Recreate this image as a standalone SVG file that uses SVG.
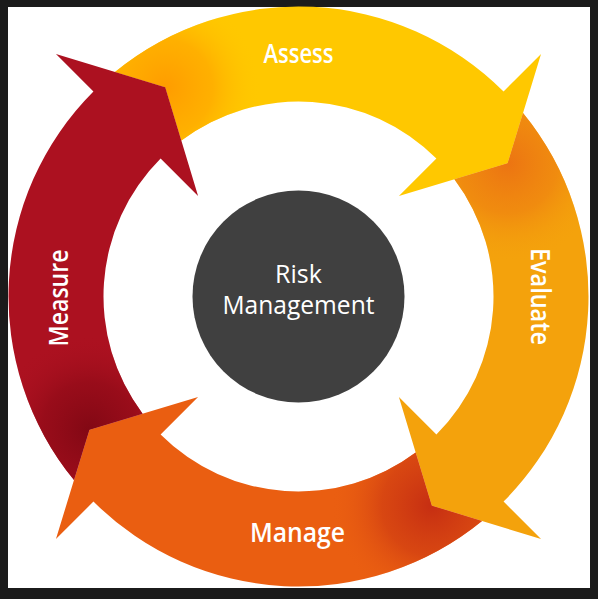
<svg xmlns="http://www.w3.org/2000/svg" xmlns:xlink="http://www.w3.org/1999/xlink" width="598" height="599" viewBox="0 0 598 599">
  <style>
    .lbl { font-family: "Open Sans", "Noto Sans", "DejaVu Sans", sans-serif; font-weight: 600; font-size: 27px; fill: #ffffff; }
    .ctr { font-family: "Open Sans", "Noto Sans", "DejaVu Sans", sans-serif; font-weight: 500; font-size: 25px; fill: #ffffff; text-anchor: middle; }
  </style>
  <defs>
    <path id="arrow" d="M 114.95 71.98 A 290 290 0 0 1 503.56 91.44 L 541.04 53.96 L 507.66 163.25 L 398.91 196.09 L 436.39 158.61 A 195 195 0 0 0 181.35 140.61 L 165.25 87.34 Z"/>
    <radialGradient id="shY" gradientUnits="userSpaceOnUse" cx="165.25" cy="87.34" r="95">
      <stop offset="0" stop-color="#FF9C00" stop-opacity="1"/>
      <stop offset="0.5" stop-color="#FFA800" stop-opacity="0.75"/>
      <stop offset="1" stop-color="#FFC800" stop-opacity="0"/>
    </radialGradient>
    <radialGradient id="shO" gradientUnits="userSpaceOnUse" cx="165.25" cy="87.34" r="100">
      <stop offset="0" stop-color="#EC7412" stop-opacity="1"/>
      <stop offset="0.5" stop-color="#EF8410" stop-opacity="0.75"/>
      <stop offset="1" stop-color="#F4A20C" stop-opacity="0"/>
    </radialGradient>
    <radialGradient id="shM" gradientUnits="userSpaceOnUse" cx="165.25" cy="87.34" r="100">
      <stop offset="0" stop-color="#C62E12" stop-opacity="1"/>
      <stop offset="0.5" stop-color="#D23F12" stop-opacity="0.75"/>
      <stop offset="1" stop-color="#EA5E11" stop-opacity="0"/>
    </radialGradient>
    <radialGradient id="shR" gradientUnits="userSpaceOnUse" cx="165.25" cy="87.34" r="95">
      <stop offset="0" stop-color="#820814" stop-opacity="1"/>
      <stop offset="0.5" stop-color="#920B18" stop-opacity="0.75"/>
      <stop offset="1" stop-color="#AC1120" stop-opacity="0"/>
    </radialGradient>
  </defs>

  <rect x="0" y="0" width="598" height="599" fill="#1b1b1b"/>
  <rect x="8" y="7" width="582" height="581" fill="#ffffff"/>

  <g id="assess">
    <use xlink:href="#arrow" href="#arrow" fill="#FFC800"/>
    <use xlink:href="#arrow" href="#arrow" fill="url(#shY)"/>
    <text class="lbl" x="298.5" y="63" text-anchor="middle" textLength="70" lengthAdjust="spacingAndGlyphs">Assess</text>
  </g>

  <g id="evaluate">
    <g transform="rotate(90 298.5 296.5)">
      <use xlink:href="#arrow" href="#arrow" fill="#F4A20C"/>
      <use xlink:href="#arrow" href="#arrow" fill="url(#shO)"/>
    </g>
    <text class="lbl" transform="translate(531 296.5) rotate(90)" x="0" y="0" text-anchor="middle" textLength="97" lengthAdjust="spacingAndGlyphs">Evaluate</text>
  </g>

  <g id="manage">
    <g transform="rotate(180 298.5 296.5)">
      <use xlink:href="#arrow" href="#arrow" fill="#EA5E11"/>
      <use xlink:href="#arrow" href="#arrow" fill="url(#shM)"/>
    </g>
    <text class="lbl" x="297.5" y="542" text-anchor="middle" textLength="95" lengthAdjust="spacingAndGlyphs">Manage</text>
  </g>

  <g id="measure">
    <g transform="rotate(270 298.5 296.5)">
      <use xlink:href="#arrow" href="#arrow" fill="#AC1120"/>
      <use xlink:href="#arrow" href="#arrow" fill="url(#shR)"/>
    </g>
    <text class="lbl" transform="translate(68 298) rotate(-90)" x="0" y="0" text-anchor="middle" textLength="97" lengthAdjust="spacingAndGlyphs">Measure</text>
  </g>

  <g id="risk-management">
    <circle cx="298.5" cy="296.5" r="106" fill="#404040"/>
    <text class="ctr" x="298.5" y="283">Risk</text>
    <text class="ctr" x="298.5" y="314" textLength="152" lengthAdjust="spacingAndGlyphs">Management</text>
  </g>

  <g id="connectors"/>
</svg>
